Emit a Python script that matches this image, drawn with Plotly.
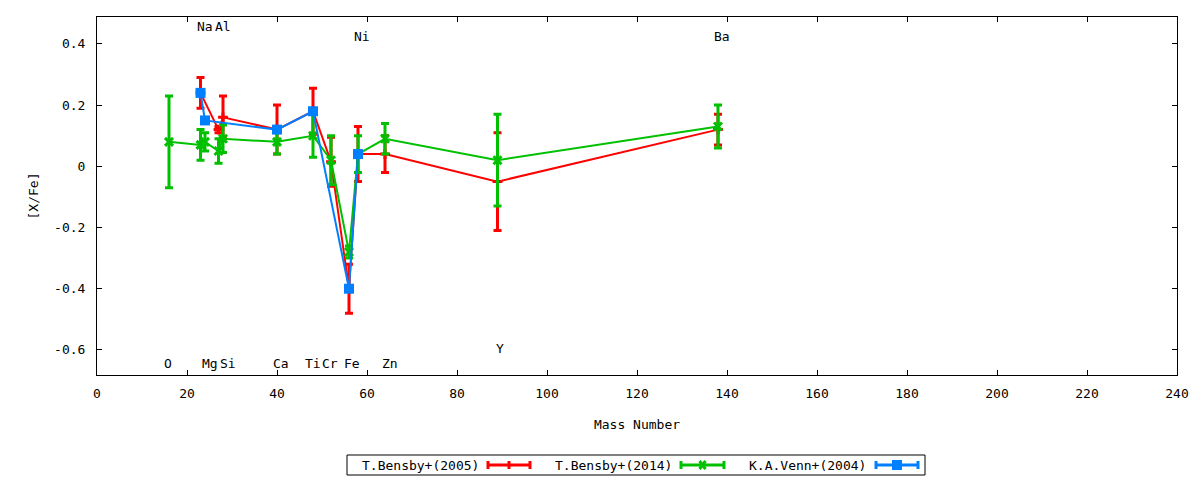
import plotly.graph_objects as go

# ---------------- data ----------------
# T.Bensby+(2005)
b05_mass = [23, 27, 28, 40, 48, 52, 56, 58, 64, 89, 138]
b05_val = [0.24, 0.12, 0.16, 0.12, 0.18, 0.015, -0.40, 0.04, 0.04, -0.05, 0.12]
b05_err = [0.05, 0.01, 0.07, 0.08, 0.075, 0.08, 0.08, 0.09, 0.06, 0.16, 0.05]

# T.Bensby+(2014)
b14_mass = [16, 23, 24, 27, 28, 40, 48, 52, 56, 58, 64, 89, 138]
b14_val = [0.08, 0.07, 0.08, 0.05, 0.09, 0.08, 0.10, 0.02, -0.28, 0.04, 0.09, 0.02, 0.13]
b14_err = [0.15, 0.05, 0.03, 0.04, 0.045, 0.04, 0.07, 0.08, 0.02, 0.06, 0.05, 0.15, 0.07]

# K.A.Venn+(2004)
v04_mass = [23, 24, 40, 48, 56, 58]
v04_val = [0.24, 0.15, 0.12, 0.18, -0.40, 0.04]
v04_err = [0, 0, 0, 0, 0, 0]

# element labels
elem_names = ["Na", "Al", "Ni", "Ba", "O", "Mg", "Si", "Ca", "Ti", "Cr", "Fe", "Zn", "Y"]
elem_x = [24.0, 28.0, 58.9, 138.9, 15.8, 25.1, 29.0, 40.9, 48.0, 51.8, 56.7, 65.1, 89.6]
elem_y = [0.456, 0.456, 0.423, 0.423, -0.643, -0.643, -0.643, -0.643, -0.643, -0.643, -0.643, -0.643, -0.597]

series_names = ["T.Bensby+(2005)", "T.Bensby+(2014)", "K.A.Venn+(2004)"]

y_tickvals = [-0.6, -0.4, -0.2, 0, 0.2, 0.4]
y_ticktext = ["-0.6", "-0.4", "-0.2", "0", "0.2", "0.4"]
x_tickvals = list(range(0, 241, 20))
x_ticktext = [str(v) for v in x_tickvals]

# ---------------- style ----------------
FONT = "DejaVu Sans Mono"
RED = "#ff0000"
GREEN = "#00c000"
BLUE = "#0080ff"

fig = go.Figure()

def add_series(x, y, e, name, color, symbol, size, mline):
    fig.add_trace(go.Scatter(
        x=x, y=y, name=name, mode="lines+markers",
        line=dict(color=color, width=2),
        marker=dict(symbol=symbol, size=size, color=color,
                    line=dict(color=color, width=mline)),
        error_y=dict(type="data", array=e, visible=True,
                     color=color, thickness=3, width=4),
        showlegend=False,
    ))

add_series(b05_mass, b05_val, b05_err, series_names[0], RED, "cross-thin", 7, 3)
add_series(b14_mass, b14_val, b14_err, series_names[1], GREEN, "x-thin", 8, 3)
add_series(v04_mass, v04_val, v04_err, series_names[2], BLUE, "square", 10, 0)

annotations = []
for n, x, y in zip(elem_names, elem_x, elem_y):
    annotations.append(dict(x=x, y=y, xref="x", yref="y", text=n, showarrow=False,
                            xanchor="center", yanchor="middle",
                            font=dict(family=FONT, size=13, color="black")))

# ---------------- layout geometry (page has an 8px body margin) ----------------
OFF = 8
W, H = 1200 - OFF, 480 - OFF
L, T = 97 - OFF, 17 - OFF
R = 23
B = H - (375 - OFF)
pw, ph = W - L - R, H - T - B

def px(x):  # page pixel -> paper x
    return (x - OFF - L) / pw

def py(y):  # page pixel -> paper y
    return (H - B - (y - OFF)) / ph

# ---------------- custom legend (text then sample) ----------------
shapes = []
shapes.append(dict(type="rect", xref="paper", yref="paper",
                   x0=px(347), x1=px(925), y0=py(475), y1=py(455),
                   line=dict(color="black", width=1), fillcolor="white"))

leg_text_right = [481, 674, 868]
leg_sample = [(488, 530), (681, 724), (876, 918)]
leg_colors = [RED, GREEN, BLUE]
ly = 465
for i in range(3):
    annotations.append(dict(x=px(leg_text_right[i]), y=py(ly), xref="paper", yref="paper",
                            text=series_names[i], showarrow=False, xanchor="right",
                            yanchor="middle",
                            font=dict(family=FONT, size=13, color="black")))
    a, b = leg_sample[i]
    c = leg_colors[i]
    shapes.append(dict(type="line", xref="paper", yref="paper",
                       x0=px(a), x1=px(b), y0=py(ly), y1=py(ly),
                       line=dict(color=c, width=3)))
    for xe in (a, b):
        shapes.append(dict(type="line", xref="paper", yref="paper",
                           x0=px(xe), x1=px(xe), y0=py(ly - 4), y1=py(ly + 4),
                           line=dict(color=c, width=3)))
    m = (a + b) / 2
    if i == 0:
        shapes.append(dict(type="line", xref="paper", yref="paper",
                           x0=px(m), x1=px(m), y0=py(ly - 4), y1=py(ly + 4),
                           line=dict(color=c, width=3)))
    elif i == 1:
        shapes.append(dict(type="line", xref="paper", yref="paper",
                           x0=px(m - 3), x1=px(m + 3), y0=py(ly - 4), y1=py(ly + 4),
                           line=dict(color=c, width=3)))
        shapes.append(dict(type="line", xref="paper", yref="paper",
                           x0=px(m - 3), x1=px(m + 3), y0=py(ly + 4), y1=py(ly - 4),
                           line=dict(color=c, width=3)))
    else:
        shapes.append(dict(type="rect", xref="paper", yref="paper",
                           x0=px(m - 5), x1=px(m + 5), y0=py(ly + 5), y1=py(ly - 5),
                           line=dict(width=0), fillcolor=c))

fig.update_layout(
    width=W, height=H,
    margin=dict(l=L, r=R, t=T, b=B),
    paper_bgcolor="white", plot_bgcolor="white",
    font=dict(family=FONT, size=13, color="black"),
    showlegend=False,
    annotations=annotations,
    shapes=shapes,
    xaxis=dict(range=[0, 240], tickvals=x_tickvals, ticktext=x_ticktext,
               ticks="inside", ticklen=5, tickcolor="black", mirror="ticks",
               showline=True, linecolor="black", linewidth=1, showgrid=False,
               zeroline=False, ticklabelstandoff=6,
               title=dict(text="Mass Number", standoff=20,
                          font=dict(family=FONT, size=13))),
    yaxis=dict(range=[-0.682, 0.488], tickvals=y_tickvals, ticktext=y_ticktext,
               ticks="inside", ticklen=5, tickcolor="black", mirror="ticks",
               showline=True, linecolor="black", linewidth=1, showgrid=False,
               zeroline=False, ticklabelstandoff=8,
               title=dict(text="[X/Fe]", standoff=12,
                          font=dict(family=FONT, size=13))),
)

fig.write_html("out.html")
